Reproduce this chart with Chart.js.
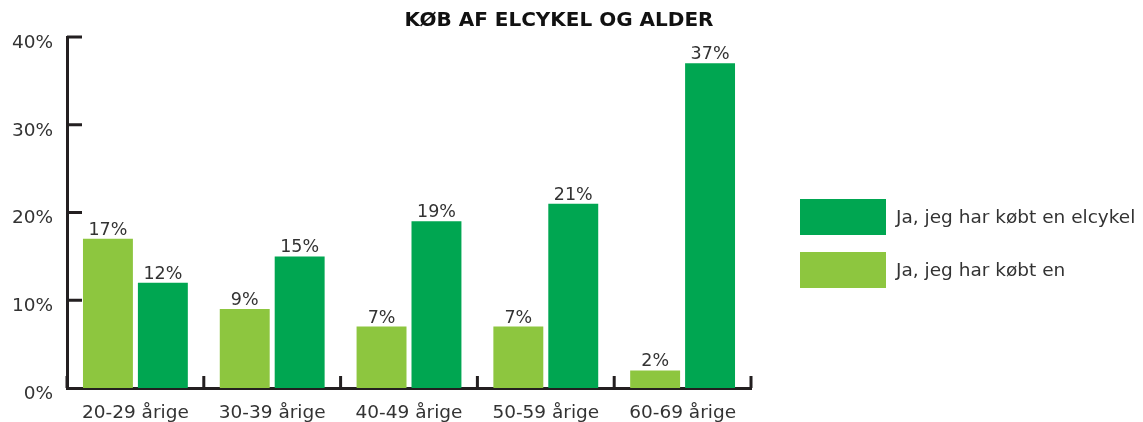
<!DOCTYPE html>
<html lang="da">
<head>
    <meta charset="UTF-8">
    <title>Køb af elcykel og alder</title>
    <script src="https://cdn.jsdelivr.net/npm/chart.js"></script>
    <style>
        html, body {
            margin: 0;
            padding: 0;
            background: #fff;
        }
        #wrap {
            width: 1143px;
            height: 422px;
        }
    </style>
</head>
<body>
    <div id="wrap"><canvas id="chart"></canvas></div>
    <script>
        const ageGroups = ['20-29 årige', '30-39 årige', '40-49 årige', '50-59 årige', '60-69 årige'];
        const boughtBike = [17, 9, 7, 7, 2];       // "Ja, jeg har købt en"
        const boughtEbike = [12, 15, 19, 21, 37];  // "Ja, jeg har købt en elcykel"
        const yTicks = [0, 10, 20, 30, 40];
        const chartTitle = 'KØB AF ELCYKEL OG ALDER';

        const FONT = '"DejaVu Sans", sans-serif';
        const INK = '#231f20';

        // title, inward tick marks, value labels and the legend on the right
        const extras = {
            id: 'extras',
            afterDraw(chart) {
                const ctx = chart.ctx;
                const x = chart.scales.x;
                const y = chart.scales.y;
                ctx.save();

                ctx.fillStyle = '#111';
                ctx.font = 'bold 20px ' + FONT;
                ctx.textAlign = 'center';
                ctx.textBaseline = 'middle';
                ctx.fillText(chartTitle, 559, 21);

                ctx.strokeStyle = INK;
                ctx.lineWidth = 3;
                ctx.beginPath();
                yTicks.forEach(v => {
                    if (v === 0) return;
                    const py = y.getPixelForValue(v);
                    ctx.moveTo(x.left, py);
                    ctx.lineTo(x.left + 15, py);
                });
                for (let i = 0; i <= ageGroups.length; i++) {
                    const px = x.getPixelForValue(i - 0.5);
                    ctx.moveTo(px, y.bottom);
                    ctx.lineTo(px, y.bottom - 12);
                }
                ctx.stroke();

                // value labels
                ctx.fillStyle = '#333';
                ctx.font = '17.5px ' + FONT;
                ctx.textAlign = 'center';
                ctx.textBaseline = 'alphabetic';
                chart.data.datasets.forEach((ds, di) => {
                    chart.getDatasetMeta(di).data.forEach((bar, i) => {
                        ctx.fillText(ds.data[i] + '%', bar.x, bar.y - 4);
                    });
                });

                // legend, dark series first
                const order = [1, 0];
                ctx.font = '18.5px ' + FONT;
                ctx.textAlign = 'left';
                ctx.textBaseline = 'middle';
                order.forEach((di, k) => {
                    const ds = chart.data.datasets[di];
                    const top = 199 + k * 53;
                    ctx.fillStyle = ds.backgroundColor;
                    ctx.fillRect(800, top, 86, 36);
                    ctx.fillStyle = '#333';
                    ctx.fillText(ds.label, 896, top + 19);
                });
                ctx.restore();
            }
        };

        new Chart(document.getElementById('chart'), {
            type: 'bar',
            data: {
                labels: ageGroups,
                datasets: [
                    {
                        label: 'Ja, jeg har købt en',
                        data: boughtBike,
                        backgroundColor: '#8dc63f'
                    },
                    {
                        label: 'Ja, jeg har købt en elcykel',
                        data: boughtEbike,
                        backgroundColor: '#00a651'
                    }
                ]
            },
            options: {
                responsive: true,
                maintainAspectRatio: false,
                animation: false,
                layout: { padding: { top: 37, right: 392, bottom: 0, left: 0 } },
                categoryPercentage: 0.803,
                barPercentage: 0.909,
                plugins: {
                    legend: { display: false },
                    tooltip: { enabled: false },
                    title: { display: false }
                },
                scales: {
                    x: {
                        grid: { display: false },
                        border: { display: true, color: INK, width: 3 },
                        ticks: {
                            color: '#333',
                            padding: 6,
                            font: { family: FONT, size: 18.5 }
                        },
                        afterFit(scale) { scale.height = 34; }
                    },
                    y: {
                        min: 0,
                        max: 40,
                        grid: { display: false },
                        border: { display: true, color: INK, width: 3 },
                        ticks: {
                            stepSize: 10,
                            color: '#333',
                            padding: 6,
                            labelOffset: 6,
                            font: { family: FONT, size: 18.5 },
                            callback: v => v + '%'
                        },
                        afterFit(scale) { scale.width = 67; }
                    }
                }
            },
            plugins: [extras]
        });
    </script>
</body>
</html>
